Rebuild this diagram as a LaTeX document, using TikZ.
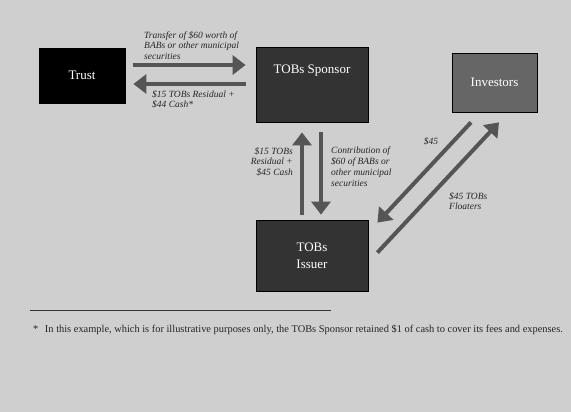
\documentclass[tikz,border=0pt]{standalone}
\usepackage{fontspec}
\setmainfont{Liberation Serif}
\usetikzlibrary{arrows.meta,calc}
\definecolor{bg}{RGB}{207,207,207}
\definecolor{arrowgray}{RGB}{85,85,85}
\definecolor{boxdark}{RGB}{51,51,51}
\definecolor{boxmid}{RGB}{102,102,102}
\begin{document}
\begin{tikzpicture}[x=1pt,y=-1pt,
  box/.style={draw=black,line width=0.8pt,inner sep=0pt,text=white,font=\fontsize{13}{17}\selectfont,align=center},
  flow/.style={draw=arrowgray,line width=4pt,-{Triangle[width=19pt,length=13pt]},shorten >=0pt},
  lbl/.style={font=\fontsize{9.5}{10.9}\itshape\selectfont,inner sep=0pt,text=black!85}]
\fill[bg] (0,0) rectangle (571,412);
\useasboundingbox (0,0) rectangle (571,412);
% boxes
\node[box,fill=black,minimum width=86pt,minimum height=55pt] (trust) at (82,75.5) {Trust};
\node[box,fill=boxdark,minimum width=112pt,minimum height=75pt,text height=9pt,text depth=31pt] (sponsor) at (312,84.5) {TOBs Sponsor};
\node[box,fill=boxmid,minimum width=85pt,minimum height=59pt] (investors) at (494.5,82.5) {Investors};
\node[box,fill=boxdark,minimum width=112pt,minimum height=71pt] (issuer) at (312,255.5) {TOBs\\Issuer};
% arrows between trust and sponsor
\draw[flow] ([xshift=8pt,yshift=10.5pt]trust.east) -- ([xshift=-10pt,yshift=10.5pt]trust.east -| sponsor.west);
\draw[flow] ([xshift=-10pt,yshift=-8.5pt]trust.east -| sponsor.west) -- ([xshift=8pt,yshift=-8.5pt]trust.east);
% vertical arrows
\draw[flow] ([xshift=-10pt,yshift=5pt]issuer.north) -- ([xshift=-10pt,yshift=-10pt]sponsor.south);
\draw[flow] ([xshift=9pt,yshift=-10pt]sponsor.south) -- ([xshift=9pt,yshift=5pt]issuer.north);
% diagonal arrows
\draw[flow] ([xshift=-23.5pt,yshift=-10pt]investors.south) -- ([xshift=9pt,yshift=-3pt]issuer.north east);
\draw[flow] ([xshift=9pt,yshift=-33pt]issuer.north east) -- ([xshift=4.5pt,yshift=-10pt]investors.south);
% labels
\node[lbl,anchor=north west,align=left] (l1) at (144,31) {Transfer of \$60 worth of\\BABs or other municipal\\securities};
\node[lbl,anchor=north west,align=left] (l2) at (152,90) {\$15 TOBs Residual +\\\$44 Cash*};
\node[lbl,anchor=north east,align=right] (l3) at (293,147) {\$15 TOBs\\Residual +\\\$45 Cash};
\node[lbl,anchor=north west,align=left] (l4) at (331,147) {Contribution of\\\$60 of BABs or\\other municipal\\securities};
\node[lbl] (l5) at (431,141) {\$45};
\node[lbl,anchor=north west,align=left] (l6) at (449,192) {\$45 TOBs\\Floaters};
% footnote
\coordinate (fa) at (30,310);
\coordinate (fb) at (331,310);
\draw[line width=0.8pt,black!80] (fa) -- (fb);
\node[anchor=west,inner sep=0pt,font=\fontsize{10.4}{12}\selectfont,text=black!85] (fn) at (33,330) {*\hspace{4pt} In this example, which is for illustrative purposes only, the TOBs Sponsor retained \$1 of cash to cover its fees and expenses.};
\end{tikzpicture}
\end{document}
